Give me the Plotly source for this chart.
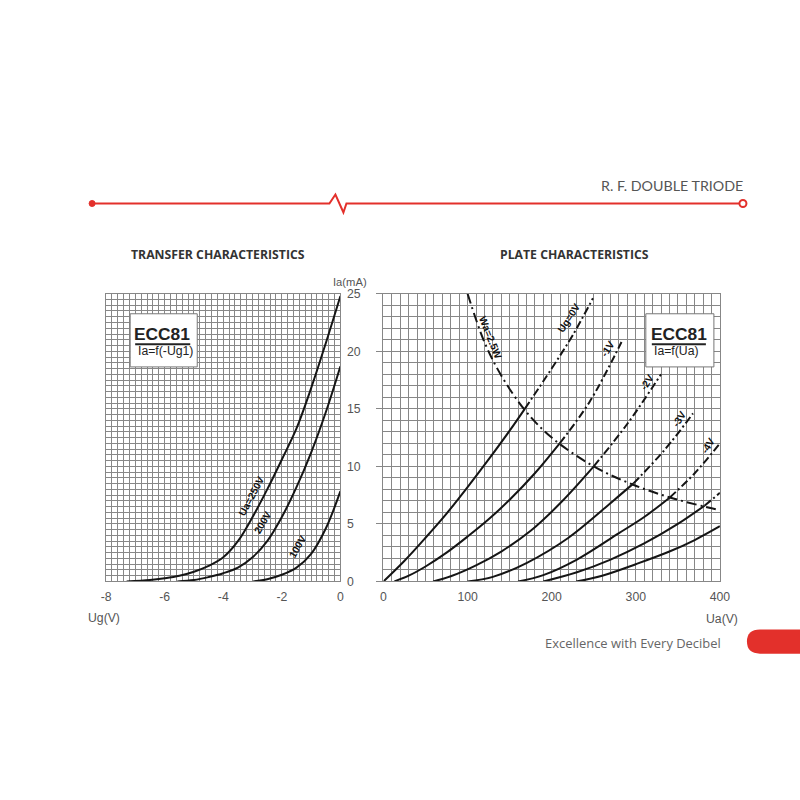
import plotly.graph_objects as go

# ---------------- data: transfer characteristics (Ia vs Ug) ----------------
ug_250 = [-7.3, -6.5, -6.0, -5.5, -5.0, -4.5, -4.0, -3.5, -3.0, -2.5, -2.0, -1.5, -1.0, -0.5, 0.0]
ia_250 = [0.0, 0.12, 0.28, 0.5, 0.85, 1.35, 2.1, 3.5, 5.6, 8.0, 10.6, 13.3, 16.8, 20.7, 24.8]
ug_200 = [-5.57, -5.0, -4.5, -4.0, -3.5, -3.0, -2.5, -2.0, -1.5, -1.0, -0.5, 0.0]
ia_200 = [0.0, 0.12, 0.38, 0.72, 1.2, 2.1, 3.5, 5.6, 8.2, 11.2, 14.7, 18.7]
ug_100 = [-2.98, -2.5, -2.0, -1.5, -1.0, -0.5, 0.0]
ia_100 = [0.0, 0.2, 0.58, 1.2, 2.4, 4.6, 7.85]
transfer_labels = ["Ua=250V", "200V", "100V"]
ug_tickvals = [-8, -6, -4, -2, 0]
ug_ticktext = ["-8", "-6", "-4", "-2", "0"]

# ---------------- data: plate characteristics (Ia vs Ua) ----------------
ua_g0 = [0, 25, 50, 75, 100, 125, 150, 168, 200, 225, 249]
ia_g0 = [0, 1.8, 3.8, 5.9, 8.2, 10.6, 13.1, 15.0, 18.5, 21.4, 24.6]
ua_g1 = [13, 30, 50, 75, 100, 125, 150, 180, 209.5, 245, 283]
ia_g1 = [0, 0.5, 1.3, 2.5, 3.9, 5.4, 7.1, 9.4, 12.0, 15.6, 20.8]
ua_g2 = [59, 80, 110, 140, 175, 211.5, 250, 290, 330]
ia_g2 = [0, 0.45, 1.4, 2.6, 4.4, 6.9, 10.0, 13.7, 18.0]
ua_g3 = [100, 130, 170, 220, 273, 297, 335, 368]
ia_g3 = [0, 0.4, 1.6, 3.8, 7.0, 8.5, 11.5, 14.6]
ua_g4 = [160, 190, 230, 280, 310, 340.5, 370, 400]
ia_g4 = [0, 0.55, 1.9, 4.2, 5.6, 7.3, 9.4, 12.0]
ua_g5 = [190, 230, 270, 310, 350, 382, 400]
ia_g5 = [0, 0.8, 1.9, 3.3, 5.0, 6.6, 7.7]
ua_g6 = [229, 260, 300, 340, 370, 400]
ia_g6 = [0, 0.5, 1.5, 2.6, 3.6, 4.8]
# Ua where each curve meets the 2.5 W dissipation line
cross_ua = [168, 209.5, 250, 297, 340.5, 382, 999]
plate_labels = ["Ug=0V", "-1V", "-2V", "-3V", "-4V", "-5V", "-6V"]

ua_wa = [100, 120, 140, 168, 200, 250, 297, 340.5, 382, 400]
ia_wa = [25, 20.8, 17.9, 14.9, 12.5, 10.0, 8.4, 7.3, 6.5, 6.2]

# ---------------- figure ----------------
W = 800
S = 0.98          # observed render scale of the page
OFFX, OFFY = 6.0, 7.0

def px_x(p):
    return ((p - OFFX) / S) / W

def px_y(p):
    return 1 - ((p - OFFY) / S) / W

def fs(size):
    return size / S

fig = go.Figure()
BLACK = "#151515"

for ug, ia in [(ug_250, ia_250), (ug_200, ia_200), (ug_100, ia_100)]:
    fig.add_trace(go.Scatter(x=ug, y=ia, mode="lines", xaxis="x", yaxis="y",
                             line=dict(color=BLACK, width=2, shape="spline", smoothing=1.0),
                             showlegend=False, hoverinfo="skip"))

plate = [(ua_g0, ia_g0), (ua_g1, ia_g1), (ua_g2, ia_g2), (ua_g3, ia_g3),
         (ua_g4, ia_g4), (ua_g5, ia_g5), (ua_g6, ia_g6)]
for (ua, ia), cu in zip(plate, cross_ua):
    sx = [u for u in ua if u <= cu]
    sy = [i for u, i in zip(ua, ia) if u <= cu]
    dx = [u for u in ua if u >= cu]
    dy = [i for u, i in zip(ua, ia) if u >= cu]
    fig.add_trace(go.Scatter(x=sx, y=sy, mode="lines", xaxis="x2", yaxis="y2",
                             line=dict(color=BLACK, width=2, shape="spline"),
                             showlegend=False, hoverinfo="skip"))
    if len(dx) > 1:
        fig.add_trace(go.Scatter(x=dx, y=dy, mode="lines", xaxis="x2", yaxis="y2",
                                 line=dict(color=BLACK, width=2, shape="spline",
                                           dash="8px,3px,2px,3px"),
                                 showlegend=False, hoverinfo="skip"))

fig.add_trace(go.Scatter(x=ua_wa, y=ia_wa, mode="lines", xaxis="x2", yaxis="y2",
                         line=dict(color=BLACK, width=2, shape="spline",
                                   dash="10px,4px,2px,4px"),
                         showlegend=False, hoverinfo="skip"))

GRID = "#878787"
TICKFONT = dict(family="Liberation Sans, Arial", size=fs(12), color="#555")
ydom = [px_y(580), px_y(293)]

axis_common = dict(showgrid=True, gridcolor=GRID, gridwidth=1, zeroline=False,
                   showline=True, linecolor=GRID, linewidth=1, mirror=True,
                   tickfont=TICKFONT, fixedrange=True)

fig.update_layout(
    width=W, height=W, margin=dict(l=0, r=0, t=0, b=0), autosize=False,
    paper_bgcolor="white", plot_bgcolor="white",
    xaxis=dict(domain=[px_x(107), px_x(341)], range=[-8, 0], anchor="y",
               tickmode="array", tickvals=ug_tickvals, ticktext=ug_ticktext,
               ticks="", ticklabelstandoff=4,
               minor=dict(dtick=0.2, showgrid=True, gridcolor=GRID, gridwidth=1),
               **axis_common),
    yaxis=dict(domain=ydom, range=[0, 25], anchor="x", side="right",
               dtick=5, ticks="", ticklabelstandoff=3,
               minor=dict(dtick=0.5, showgrid=True, gridcolor=GRID, gridwidth=1),
               **axis_common),
    xaxis2=dict(domain=[px_x(384), px_x(720)], range=[0, 400], anchor="y2",
                dtick=100, ticks="", ticklabelstandoff=4,
                minor=dict(dtick=10, showgrid=True, gridcolor=GRID, gridwidth=1),
                **axis_common),
    yaxis2=dict(domain=ydom, range=[0, 25], anchor="x2", side="left",
                dtick=5, ticks="outside", ticklen=6, tickcolor=GRID,
                showticklabels=False,
                minor=dict(dtick=1, showgrid=True, gridcolor=GRID, gridwidth=1),
                **axis_common),
)

shapes = []
RED = "#e3302b"
# header line with zig-zag
shapes.append(dict(type="path", xref="paper", yref="paper",
                   path=(f"M {px_x(93)},{px_y(203)} L {px_x(330)},{px_y(203)} "
                         f"L {px_x(336)},{px_y(194)} L {px_x(344)},{px_y(212)} "
                         f"L {px_x(347)},{px_y(203)} L {px_x(740)},{px_y(203)}"),
                   line=dict(color=RED, width=2)))
shapes.append(dict(type="circle", xref="paper", yref="paper",
                   x0=px_x(90), x1=px_x(96), y0=px_y(206), y1=px_y(200),
                   fillcolor=RED, line=dict(color=RED, width=1)))
shapes.append(dict(type="circle", xref="paper", yref="paper",
                   x0=px_x(739.5), x1=px_x(746.5), y0=px_y(206.5), y1=px_y(199.5),
                   fillcolor="white", line=dict(color=RED, width=2)))
# footer red pill
shapes.append(dict(type="path", xref="paper", yref="paper",
                   path=(f"M {px_x(760)},{px_y(628)} L {px_x(830)},{px_y(628)} "
                         f"L {px_x(830)},{px_y(652)} L {px_x(760)},{px_y(652)} "
                         f"Q {px_x(747)},{px_y(652)} {px_x(747)},{px_y(640)} "
                         f"Q {px_x(747)},{px_y(628)} {px_x(760)},{px_y(628)} Z"),
                   fillcolor=RED, line=dict(color=RED, width=0)))
# ECC81 boxes
for x0, x1 in [(131, 198), (646, 714)]:
    shapes.append(dict(type="rect", xref="paper", yref="paper", layer="above",
                       x0=px_x(x0), x1=px_x(x1), y0=px_y(366), y1=px_y(313),
                       fillcolor="white", line=dict(color="#777", width=1)))
for x0, x1 in [(136, 191), (652, 706)]:
    shapes.append(dict(type="line", xref="paper", yref="paper", layer="above",
                       x0=px_x(x0), x1=px_x(x1), y0=px_y(343.5), y1=px_y(343.5),
                       line=dict(color="#222", width=2)))
fig.update_layout(shapes=shapes)

ann = []
def text(x, y, s, size=12, color="#555", family="Liberation Sans, Arial", xanchor="center",
         angle=0, xref="paper", yref="paper", bold=False):
    if bold:
        s = f"<b>{s}</b>"
    ann.append(dict(x=x, y=y, xref=xref, yref=yref, text=s, showarrow=False,
                    xanchor=xanchor, yanchor="middle", textangle=angle,
                    font=dict(size=fs(size), color=color, family=family)))

text(px_x(745), px_y(185), "R. F. DOUBLE TRIODE", size=14, color="#555",
     family="Lato, Open Sans", xanchor="right")
text(px_x(219), px_y(254), "TRANSFER CHARACTERISTICS", size=12, color="#333",
     family="Open Sans", bold=True)
text(px_x(575), px_y(254), "PLATE CHARACTERISTICS", size=12, color="#333",
     family="Open Sans", bold=True)
text(px_x(633), px_y(641), "Excellence with Every Decibel", size=12.7, color="#666",
     family="Open Sans")
text(px_x(351), px_y(281), "Ia(mA)", size=11, color="#555")
text(px_x(105), px_y(616), "Ug(V)", size=12, color="#555")
text(px_x(722), px_y(617), "Ua(V)", size=12, color="#555")
# boxes text
text(px_x(163), px_y(333), "ECC81", size=17, color="#222", bold=True)
text(px_x(137), px_y(350), "Ia=f(-Ug1)", size=12, color="#222", xanchor="left")
text(px_x(679), px_y(333), "ECC81", size=17, color="#222", bold=True)
text(px_x(652), px_y(350), "Ia=f(Ua)", size=12, color="#222", xanchor="left")

# curve labels, transfer
LBL = dict(size=10, color="#111", family="Liberation Sans Narrow, Liberation Sans", bold=True)
for (x, y, ang), s in zip([(-3.05, 7.4, -62), (-2.65, 5.1, -60), (-1.45, 3.0, -60)],
                          transfer_labels):
    text(x, y, s, xref="x", yref="y", angle=ang, **LBL)
# curve labels, plate
plab_pos = [(221, 22.9, -57), (267, 20.2, -58), (313, 17.3, -58), (351, 14.1, -58),
            (386, 11.8, -58), (414, 7.75, 0), (414, 4.9, 0)]
for (x, y, ang), s in zip(plab_pos, plate_labels):
    text(x, y, s, xref="x2", yref="y2", angle=ang, **LBL)
text(127, 21.2, "Wa=2.5W", xref="x2", yref="y2", angle=68, **LBL)

fig.update_layout(annotations=ann)
fig.write_html("out.html")
